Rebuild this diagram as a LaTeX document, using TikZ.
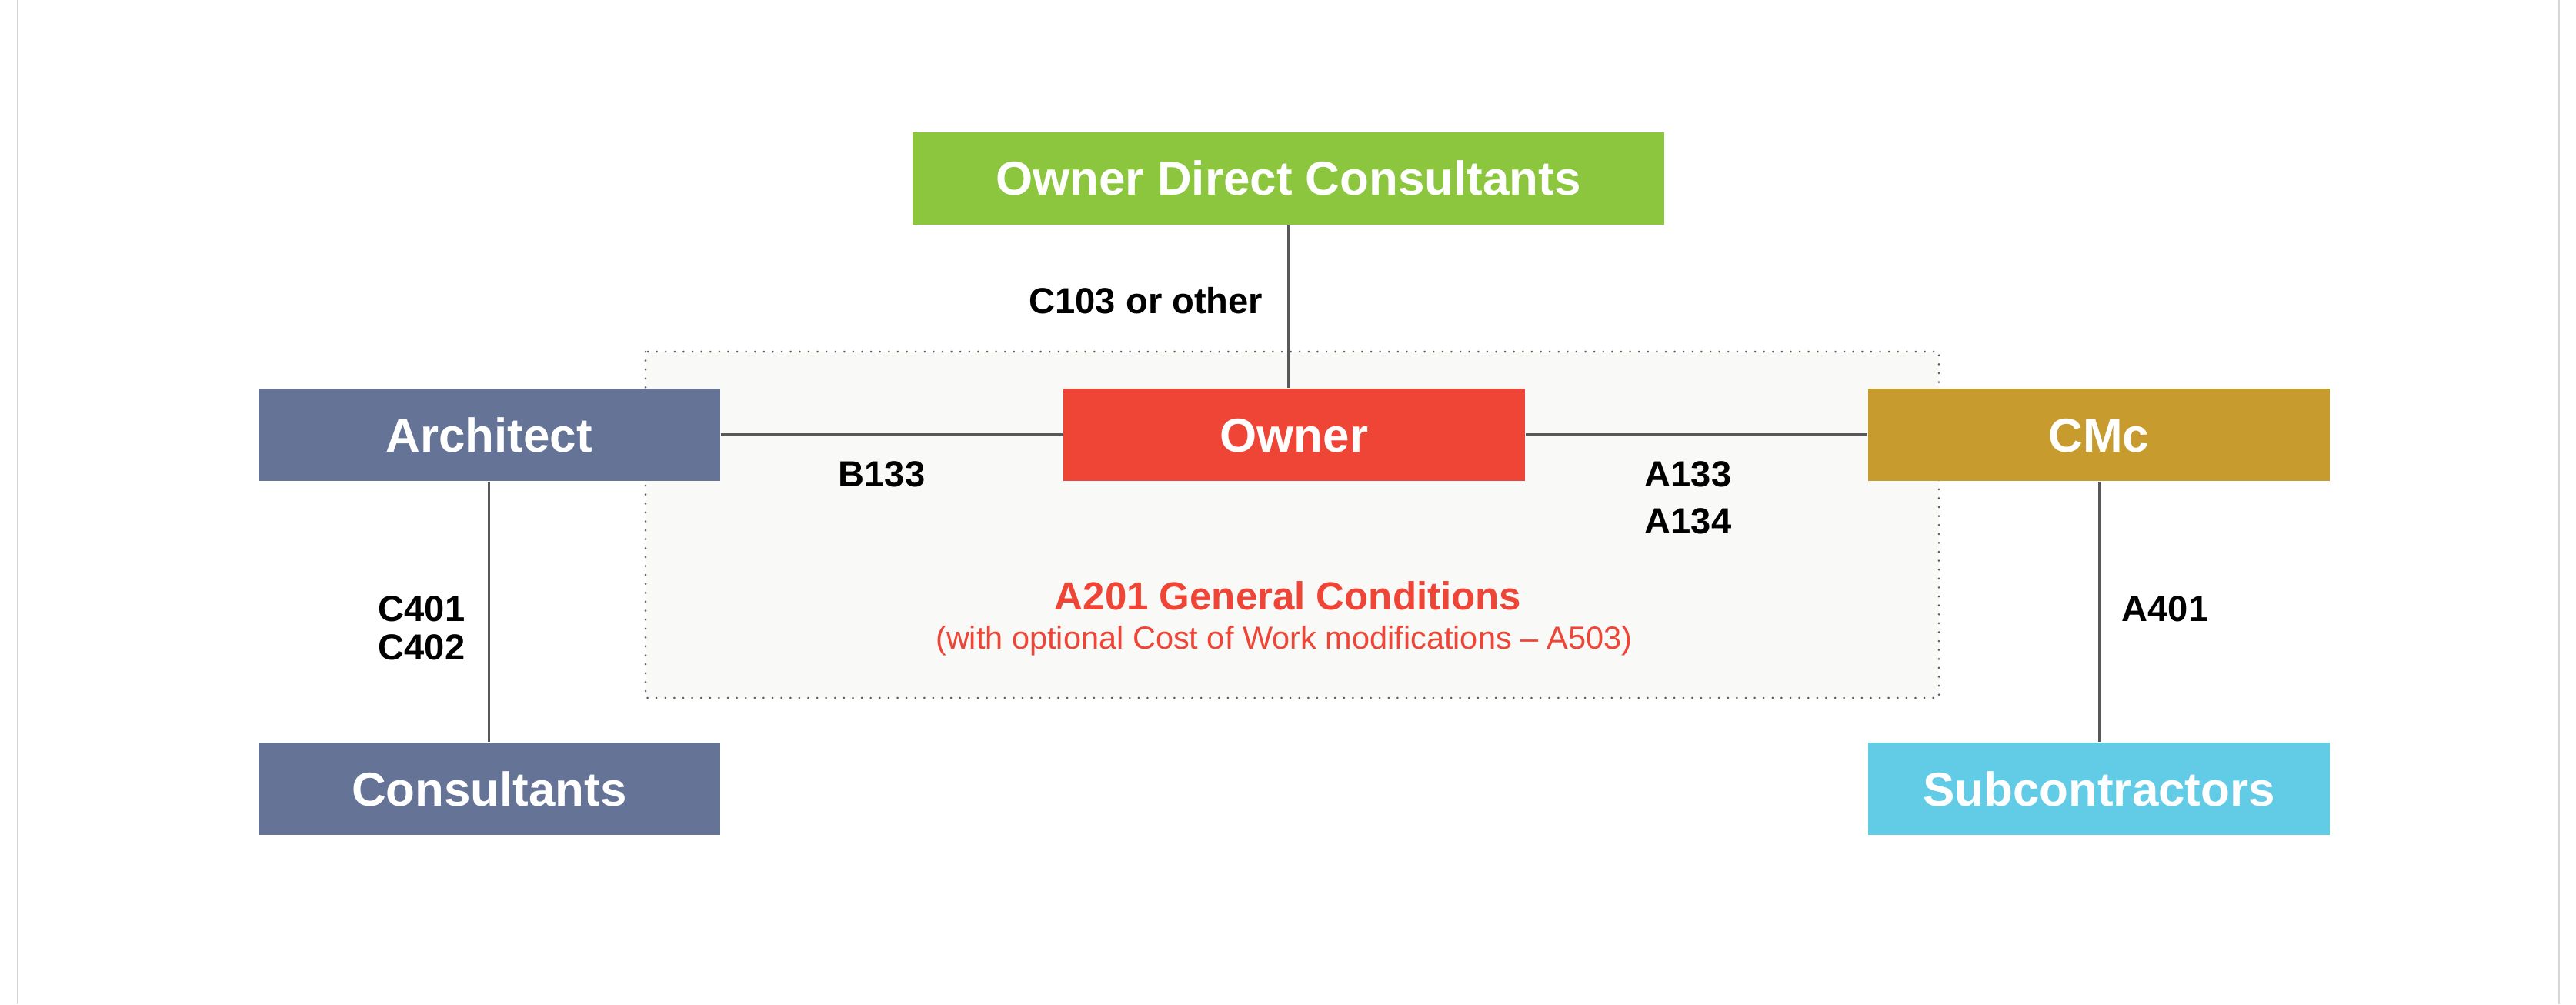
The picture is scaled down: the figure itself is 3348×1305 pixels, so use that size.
\documentclass[tikz,border=0pt]{standalone}
\usepackage{fontspec}
\setmainfont{Liberation Sans}
\usepackage{tikz}
\usetikzlibrary{matrix}
\definecolor{odcgreen}{HTML}{8CC63F}
\definecolor{archblue}{HTML}{657496}
\definecolor{ownerred}{HTML}{EF4537}
\definecolor{cmcgold}{HTML}{C89B2E}
\definecolor{subcyan}{HTML}{62CBE6}
\definecolor{zonefill}{HTML}{F9F9F7}
\definecolor{linegray}{HTML}{58585A}
\definecolor{dotgray}{HTML}{5E5E5E}
\definecolor{framegray}{HTML}{D6D6D6}

\begin{document}
\begin{tikzpicture}[x=0.01cm,y=-0.01cm,
	lbl/.style={inner sep=0pt,font=\bfseries\fontsize{13.4}{16}\selectfont},
	link/.style={linegray,line width=1.3pt},
	drop/.style={linegray,line width=0.9pt}]
	\useasboundingbox (0,0) rectangle (3348,1305);
	\draw[framegray,line width=0.4pt] (23,0) -- (23,1305);
	\draw[framegray,line width=0.4pt] (3326,0) -- (3326,1305);
	\draw[dotgray,fill=zonefill,line width=0.85pt,line cap=round,dash pattern=on 0pt off 3.3pt] (839,457) rectangle (2520,907);
	\matrix (org) [%
	matrix of nodes,
	anchor=north west,
	inner sep=0pt,
	column sep=2.5cm,
	row sep=2.13cm,
	nodes={minimum width=6cm,minimum height=1.2cm,inner sep=0pt,text=white,text height=12.6pt,text depth=0pt,font=\bfseries\fontsize{17.6}{21}\selectfont},
	ampersand replacement=\&
	] at (335,171)
	{
		\& |[fill=odcgreen,minimum width=9.76cm]| Owner Direct Consultants \&[1.5mm] \\
		|[fill=archblue]| Architect \& |[fill=ownerred,xshift=0.075cm]| Owner \& |[fill=cmcgold]| CMc \\[1.27cm]
		|[fill=archblue]| Consultants \& \& |[fill=subcyan]| Subcontractors \\
	};
	\draw[link] (org-2-1) -- (org-2-2);
	\draw[link] (org-2-2) -- (org-2-3);
	\draw[drop] (org-1-2) -- (org-1-2 |- org-2-2.north);
	\draw[drop] (org-2-1) -- (org-3-1);
	\draw[drop] (org-2-3) -- (org-3-3);
	\node[lbl,anchor=base east] (c103) at (1642,407) {C103 or other};
	\node[lbl,anchor=base] (b133) at (1146,632) {B133};
	\node[lbl,anchor=base west] (a133) at (2137,632) {A133};
	\node[lbl,anchor=base west] (a134) at (2137,693) {A134};
	\node[lbl,anchor=base east] (c401) at (605,807) {C401};
	\node[lbl,anchor=base east] (c402) at (605,857) {C402};
	\node[lbl,anchor=base west] (a401) at (2757,807) {A401};
	\node[anchor=base,inner sep=0pt,text=ownerred,font=\bfseries\fontsize{14.5}{17}\selectfont] (gc) at (1674,792) {A201 General Conditions};
	\node[anchor=base,inner sep=0pt,text=ownerred,font=\fontsize{11.8}{14}\selectfont] (gcnote) at (1669,843) {(with optional Cost of Work modifications – A503)};
\end{tikzpicture}
\end{document}
